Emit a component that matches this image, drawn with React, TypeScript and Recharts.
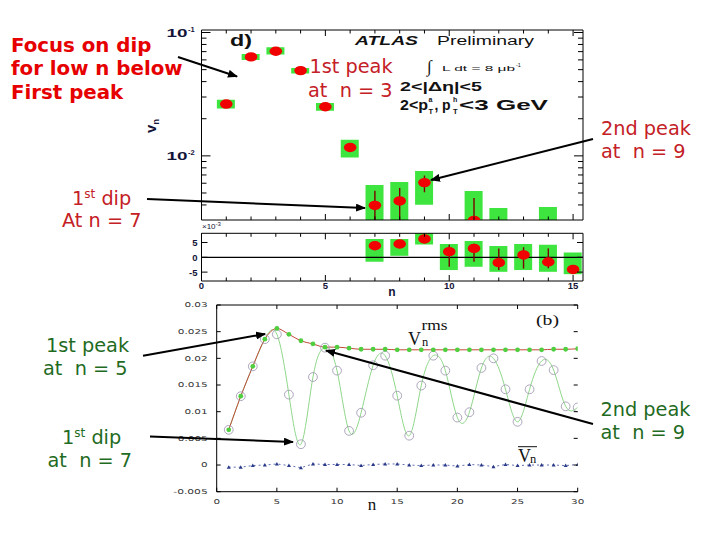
import React from 'react';
import { ComposedChart, Bar, Scatter, ErrorBar, XAxis, YAxis, ReferenceLine, Line } from 'recharts';

const W = 720;
const H = 540;

// ---------- panel d): ATLAS v_n (log scale) ----------
const dPtN = [1, 2, 3, 4, 5, 6, 7, 8, 9, 11];
const dPtV = [0.0263, 0.0634, 0.0705, 0.0491, 0.025, 0.0117, 0.00397, 0.00431, 0.00607, 0.003];
const dErrLo = [0.0263, 0.0634, 0.0705, 0.0491, 0.025, 0.0117, 0.00302, 0.00302, 0.00507, 0.00302];
const dErrHi = [0.0263, 0.0634, 0.0705, 0.0491, 0.025, 0.0117, 0.00522, 0.0055, 0.00692, 0.00456];
const dBoxN = [1, 2, 3, 4, 5, 6, 7, 8, 9, 11, 12, 14];
const dBoxLo = [0.02424, 0.06, 0.0663, 0.0465, 0.0232, 0.00969, 0.002, 0.002, 0.00402, 0.002, 0.002, 0.002];
const dBoxHi = [0.02853, 0.0671, 0.076, 0.0516, 0.0268, 0.01349, 0.00581, 0.00614, 0.00755, 0.00519, 0.00378, 0.00385];
const dYTicks = [0.004, 0.005, 0.006, 0.007, 0.008, 0.009, 0.01, 0.02, 0.03, 0.04, 0.05, 0.06, 0.07, 0.08, 0.09, 0.1];
const nTicks = [0, 1, 2, 3, 4, 5, 6, 7, 8, 9, 10, 11, 12, 13, 14, 15];
const nLabels = [0, 5, 10, 15];

// ---------- residual panel (x10^-3) ----------
const rN = [7, 8, 9, 10, 11, 12, 13, 14, 15];
const rV = [3.9, 4.5, 6.2, 1.9, 3.0, -1.8, 0.8, -1.6, -4.1];
const rErrLo = [3.3, 3.9, 5.6, -3.2, -1.5, -4.3, -3.8, -3.7, -5.4];
const rErrHi = [4.5, 5.1, 6.8, 4.2, 4.6, 3.0, 3.4, 3.0, -2.6];
const rBoxLo = [-1.5, 0.5, 4.3, -4.3, -3.2, -4.9, -4.3, -4.9, -5.7];
const rBoxHi = [6.2, 6.2, 9.0, 4.5, 5.5, 3.8, 4.5, 4.2, 1.6];
const rYTicks = [-5, 0, 5];

// ---------- panel (b): model v_n vs n ----------
const bN = [1, 2, 3, 4, 5, 6, 7, 8, 9, 10, 11, 12, 13, 14, 15, 16, 17, 18, 19, 20, 21, 22, 23, 24, 25, 26, 27, 28, 29, 30];
const bRms = [0.0066, 0.0129, 0.0185, 0.0236, 0.0256, 0.0245, 0.0233, 0.0227, 0.0221, 0.0221, 0.0219, 0.0217, 0.0217, 0.0217, 0.0216, 0.0216, 0.0216, 0.0216, 0.0216, 0.0216, 0.0216, 0.0216, 0.0216, 0.0216, 0.0216, 0.0216, 0.0216, 0.0217, 0.0217, 0.0218];
const bOsc = [0.0066, 0.0129, 0.0185, 0.0236, 0.0245, 0.0132, 0.0039, 0.0165, 0.022, 0.0177, 0.0064, 0.0098, 0.0187, 0.0205, 0.013, 0.0055, 0.0149, 0.0205, 0.0177, 0.0089, 0.0099, 0.0182, 0.02, 0.0142, 0.0081, 0.0142, 0.0195, 0.0178, 0.011, 0.0108];
const bBar = [-0.0004, -0.0004, -0.0001, 0, 0.0002, -0.0001, -0.0005, 0.0002, 0.0001, 0.0001, 0.0001, -0.0001, 0.0001, 0.0002, 0.0002, 0, -0.0001, 0, 0, -0.0002, 0.0001, 0, -0.0003, 0.0001, -0.0001, 0, 0, 0, -0.0001, 0.0001];
const bXTicks = [0, 5, 10, 15, 20, 25, 30];
const bYTicks = [-0.005, 0, 0.005, 0.01, 0.015, 0.02, 0.025, 0.03];

// ---------- tables built from the arrays ----------
const dBoxes = dBoxN.map((n, i) => ({ n, box: [dBoxLo[i], dBoxHi[i]] }));
const dPoints = dPtN.map((n, i) => ({ n, v: dPtV[i], err: [dPtV[i] - dErrLo[i], dErrHi[i] - dPtV[i]] }));
const rBoxes = rN.map((n, i) => ({ n, box: [rBoxLo[i], rBoxHi[i]] }));
const rPoints = rN.map((n, i) => ({ n, v: rV[i], err: [rV[i] - rErrLo[i], rErrHi[i] - rV[i]] }));
const bRows = bN.map((n, i) => ({ n, rms: bRms[i], osc: bOsc[i], vbar: bBar[i] }));

// ---------- styles ----------
const SANS = "'Liberation Sans', Arial, sans-serif";
const DEJA = "'DejaVu Sans', Verdana, sans-serif";
const SERIF = "'Liberation Serif', 'Times New Roman', serif";
const NAVY = '#141438';
const BOX_GREEN = '#3ee53e';
const PT_RED = '#f00000';
const ERR_RED = '#7a0000';
const RED = '#e60000';
const DRED = '#c42026';
const DGREEN = '#1f6b1f';

type LabelFn = (v: number, x: number, y: number) => React.ReactNode;
const tickL = (len: (v: number) => number, label?: LabelFn) => (p: any) => {
  const v = p.payload.value;
  return (
    <g>
      <line x1={p.x} y1={p.y} x2={p.x + len(v)} y2={p.y} stroke="#000" strokeWidth={1} />
      {label ? label(v, p.x, p.y) : null}
    </g>
  );
};
const tickR = (len: (v: number) => number) => (p: any) => (
  <line x1={p.x} y1={p.y} x2={p.x - len(p.payload.value)} y2={p.y} stroke="#000" strokeWidth={1} />
);
const tickB = (len: (v: number) => number, label?: LabelFn) => (p: any) => {
  const v = p.payload.value;
  return (
    <g>
      <line x1={p.x} y1={p.y} x2={p.x} y2={p.y - len(v)} stroke="#000" strokeWidth={1} />
      {label ? label(v, p.x, p.y) : null}
    </g>
  );
};
const tickT = (len: (v: number) => number) => (p: any) => (
  <line x1={p.x} y1={p.y} x2={p.x} y2={p.y + len(p.payload.value)} stroke="#000" strokeWidth={1} />
);

const isDecade = (v: number) => Math.abs(Math.log10(v) - Math.round(Math.log10(v))) < 1e-6;
const logLen = (v: number) => (isDecade(v) ? 9 : 5);
const logLabel: LabelFn = (v, x, y) =>
  isDecade(v) ? (
    <g>
      <text x={x - 14} y={y + 4} textAnchor="end" fontFamily={SANS} fontWeight="bold" fontSize={11.5} textLength={21} lengthAdjust="spacingAndGlyphs" fill={NAVY}>
        10
      </text>
      <text x={x - 13.5} y={y - 1} fontFamily={SANS} fontWeight="bold" fontSize={7.5} fill={NAVY}>
        {String(Math.round(Math.log10(v)))}
      </text>
    </g>
  ) : null;
const nLen = (v: number) => (nLabels.includes(v) ? 6 : 3.5);
const nLabel: LabelFn = (v, x, y) =>
  nLabels.includes(v) ? (
    <text x={x} y={y + 8} textAnchor="middle" fontFamily={SANS} fontWeight="bold" fontSize={9.5} fill={NAVY}>
      {String(v)}
    </text>
  ) : null;
const rLabel: LabelFn = (v, x, y) => (
  <text x={x - 4} y={y + 3.5} textAnchor="end" fontFamily={SANS} fontWeight="bold" fontSize={9.5} fill={NAVY}>
    {String(v)}
  </text>
);
// panel (b) labels: wide, horizontally stretched glyphs
const wideLen = (s: string) =>
  s.split('').reduce((acc, c) => acc + (c === '.' ? 3.5 : c === '-' ? 4.5 : 6.6), 0);
const bYLabel: LabelFn = (v, x, y) => {
  const s = String(v);
  return (
    <text x={x - 9} y={y + 2.4} textAnchor="end" fontFamily={DEJA} fontSize={6.6} textLength={wideLen(s)} lengthAdjust="spacingAndGlyphs" fill="#333">
      {s}
    </text>
  );
};
const bXLabel: LabelFn = (v, x, y) => {
  const s = String(v);
  return (
    <text x={x} y={y + 12.3} textAnchor="middle" fontFamily={DEJA} fontSize={6.6} textLength={wideLen(s)} lengthAdjust="spacingAndGlyphs" fill="#333">
      {s}
    </text>
  );
};

const Ellipse = (p: any) => <ellipse cx={p.cx} cy={p.cy} rx={6.3} ry={4.7} fill={PT_RED} />;
const OpenCircle = (p: any) => (
  <circle key={`oc${p.index}`} cx={p.cx} cy={p.cy} r={4.4} fill="none" stroke="#a49cb4" strokeWidth={0.9} />
);
const GreenDot = (p: any) => <circle key={`gd${p.index}`} cx={p.cx} cy={p.cy} r={2.4} fill="#4fcf3f" />;
const Tri = (p: any) => (
  <path
    key={`tr${p.index}`}
    d={`M${p.cx},${p.cy - 2} L${p.cx + 2},${p.cy + 1.5} L${p.cx - 2},${p.cy + 1.5} Z`}
    fill="#2a3a8a"
  />
);

const abs: React.CSSProperties = { position: 'absolute', left: 0, top: 0 };
const axisCommon = { tickSize: 0, tickMargin: 0, tickLine: false, interval: 0 as const, allowDataOverflow: true };

// axes are 1px thick, so each margin is 1px smaller than the plot edge it defines
function TopPanel() {
  return (
    <div style={abs}>
      <ComposedChart width={W} height={H} data={dBoxes} margin={{ top: 29, right: 136, bottom: 319, left: 200.5 }}>
        <XAxis xAxisId="b" dataKey="n" type="number" domain={[0, 15.4]} ticks={nTicks} height={1} {...axisCommon} axisLine={{ stroke: '#000' }} tick={tickB(nLen)} />
        <XAxis xAxisId="t" dataKey="n" type="number" orientation="top" domain={[0, 15.4]} ticks={nTicks} height={1} {...axisCommon} axisLine={{ stroke: '#000' }} tick={tickT(nLen)} />
        <YAxis yAxisId="l" type="number" scale="log" domain={[0.00302, 0.1048]} ticks={dYTicks} width={1} {...axisCommon} axisLine={{ stroke: '#000' }} tick={tickL(logLen, logLabel)} />
        <YAxis yAxisId="r" type="number" scale="log" orientation="right" domain={[0.00302, 0.1048]} ticks={dYTicks} width={1} {...axisCommon} axisLine={{ stroke: '#000' }} tick={tickR(logLen)} />
        <Bar xAxisId="b" yAxisId="l" dataKey="box" barSize={18} fill={BOX_GREEN} isAnimationActive={false} />
        <Scatter xAxisId="b" yAxisId="l" data={dPoints} dataKey="v" shape={Ellipse} isAnimationActive={false}>
          <ErrorBar dataKey="err" direction="y" width={0} stroke={ERR_RED} strokeWidth={1.4} />
        </Scatter>
      </ComposedChart>
    </div>
  );
}

function ResidualPanel() {
  return (
    <div style={abs}>
      <ComposedChart width={W} height={H} data={rBoxes} margin={{ top: 232.3, right: 136, bottom: 258, left: 200.5 }}>
        <XAxis xAxisId="b" dataKey="n" type="number" domain={[0, 15.4]} ticks={nTicks} height={1} {...axisCommon} axisLine={{ stroke: '#000' }} tick={tickB(nLen, nLabel)} />
        <XAxis xAxisId="t" dataKey="n" type="number" orientation="top" domain={[0, 15.4]} ticks={nTicks} height={1} {...axisCommon} axisLine={{ stroke: '#000' }} tick={tickT(nLen)} />
        <YAxis yAxisId="l" type="number" domain={[-8, 8.1]} ticks={rYTicks} width={1} {...axisCommon} axisLine={{ stroke: '#000' }} tick={tickL(() => 6, rLabel)} />
        <YAxis yAxisId="r" type="number" orientation="right" domain={[-8, 8.1]} ticks={rYTicks} width={1} {...axisCommon} axisLine={{ stroke: '#000' }} tick={tickR(() => 6)} />
        <Bar xAxisId="b" yAxisId="l" dataKey="box" barSize={18} fill={BOX_GREEN} isAnimationActive={false} />
        <ReferenceLine xAxisId="b" yAxisId="l" y={0} stroke="#000" strokeWidth={1.2} />
        <Scatter xAxisId="b" yAxisId="l" data={rPoints} dataKey="v" shape={Ellipse} isAnimationActive={false}>
          <ErrorBar dataKey="err" direction="y" width={0} stroke={ERR_RED} strokeWidth={1.4} />
        </Scatter>
      </ComposedChart>
    </div>
  );
}

function ModelPanel() {
  return (
    <div style={abs}>
      <ComposedChart width={W} height={H} data={bRows} margin={{ top: 304, right: 141.3, bottom: 47.3, left: 215.7 }}>
        <XAxis xAxisId="b" dataKey="n" type="number" domain={[0, 30]} ticks={bXTicks} height={1} {...axisCommon} axisLine={{ stroke: '#000' }} tick={tickB(() => 4, bXLabel)} />
        <XAxis xAxisId="t" dataKey="n" type="number" orientation="top" domain={[0, 30]} ticks={bXTicks} height={1} {...axisCommon} axisLine={{ stroke: '#000' }} tick={tickT(() => 4)} />
        <YAxis yAxisId="l" type="number" domain={[-0.005, 0.03]} ticks={bYTicks} width={1} {...axisCommon} axisLine={{ stroke: '#000' }} tick={tickL(() => 4, bYLabel)} />
        <YAxis yAxisId="r" type="number" orientation="right" domain={[-0.005, 0.03]} ticks={bYTicks} width={1} {...axisCommon} axisLine={false} tick={tickR(() => 4)} />
        <Line xAxisId="b" yAxisId="l" dataKey="osc" type="natural" stroke="#8fd68a" strokeWidth={1} dot={OpenCircle} isAnimationActive={false} />
        <Line xAxisId="b" yAxisId="l" dataKey="rms" type="monotone" stroke="#c24a3a" strokeWidth={1} dot={GreenDot} isAnimationActive={false} />
        <Line xAxisId="b" yAxisId="l" dataKey="vbar" type="linear" stroke="#3a4a9a" strokeWidth={0.8} strokeDasharray="2 3" dot={Tri} isAnimationActive={false} />
      </ComposedChart>
    </div>
  );
}

function Arrow({ x1, y1, x2, y2 }: { x1: number; y1: number; x2: number; y2: number }) {
  return <line x1={x1} y1={y1} x2={x2} y2={y2} stroke="#000" strokeWidth={2} markerEnd="url(#ah)" />;
}

function Overlay() {
  const ann = { fontFamily: DEJA, fontSize: 19.3 };
  return (
    <svg width={W} height={H} style={abs}>
      <defs>
        <marker id="ah" viewBox="0 0 10 8" refX={9} refY={4} markerWidth={10} markerHeight={8} markerUnits="userSpaceOnUse" orient="auto">
          <path d="M0,0 L10,4 L0,8 Z" fill="#000" />
        </marker>
      </defs>

      {/* panel d) texts */}
      <text x={230} y={45.5} fontFamily={SANS} fontWeight="bold" fontSize={16} textLength={22} lengthAdjust="spacingAndGlyphs" fill="#111">d)</text>
      <text x={355} y={45} fontFamily={SANS} fontWeight="bold" fontStyle="italic" fontSize={12.5} textLength={63} lengthAdjust="spacingAndGlyphs" fill="#111">ATLAS</text>
      <text x={437} y={45} fontFamily={SANS} fontSize={12.5} textLength={97} lengthAdjust="spacingAndGlyphs" fill="#111">Preliminary</text>
      <text x={427} y={72} fontFamily={SERIF} fontSize={17} fill="#111">∫</text>
      <text x={442} y={71} fontFamily={SANS} fontSize={7} textLength={73} lengthAdjust="spacingAndGlyphs" fill="#111">L dt = 8 μb</text>
      <text x={516} y={67} fontFamily={SANS} fontSize={5.5} fill="#111">-1</text>
      <text x={400} y={91.2} fontFamily={SANS} fontWeight="bold" fontSize={13.5} textLength={82} lengthAdjust="spacingAndGlyphs" fill="#111">2&lt;|Δη|&lt;5</text>
      <text x={400} y={110} fontFamily={SANS} fontWeight="bold" fontSize={14} textLength={28} lengthAdjust="spacingAndGlyphs" fill="#111">2&lt;p</text>
      <text x={428.5} y={101.5} fontFamily={SANS} fontWeight="bold" fontSize={7} fill="#111">a</text>
      <text x={428.5} y={113.5} fontFamily={SANS} fontWeight="bold" fontSize={7.5} fill="#111">T</text>
      <text x={434.5} y={110} fontFamily={SANS} fontWeight="bold" fontSize={14} fill="#111">,</text>
      <text x={442} y={110} fontFamily={SANS} fontWeight="bold" fontSize={14} fill="#111">p</text>
      <text x={453} y={101.5} fontFamily={SANS} fontWeight="bold" fontSize={7} fill="#111">h</text>
      <text x={453} y={113.5} fontFamily={SANS} fontWeight="bold" fontSize={7.5} fill="#111">T</text>
      <text x={459} y={110} fontFamily={SANS} fontWeight="bold" fontSize={14} textLength={89} lengthAdjust="spacingAndGlyphs" fill="#111">&lt;3 GeV</text>
      <text transform="translate(155.5,126) rotate(-90)" textAnchor="middle" fontFamily={SANS} fontWeight="bold" fontSize={15} fill={NAVY}>
        v<tspan dy={3} fontSize={9}>n</tspan>
      </text>
      <text x={202} y={229} fontFamily={SANS} fontSize={8} fill={NAVY}>
        ×10<tspan dy={-3.5} fontSize={6}>-3</tspan>
      </text>
      <text x={392} y={296} textAnchor="middle" fontFamily={SANS} fontWeight="bold" fontSize={12} fill={NAVY}>n</text>

      {/* panel (b) texts */}
      <text x={408} y={345} fontFamily={SERIF} fontSize={18} fill="#111">V</text>
      <text x={422} y={346} fontFamily={SERIF} fontSize={12.5} fill="#111">n</text>
      <text x={421.5} y={330} fontFamily={SERIF} fontSize={14} textLength={26} lengthAdjust="spacingAndGlyphs" fill="#111">rms</text>
      <text x={536} y={325} fontFamily={SERIF} fontSize={15} textLength={23} lengthAdjust="spacingAndGlyphs" fill="#111">(b)</text>
      <text x={518} y={462} fontFamily={SERIF} fontSize={18} fill="#111">V</text>
      <text x={530} y={463} fontFamily={SERIF} fontSize={12.5} fill="#111">n</text>
      <line x1={518} y1={446.7} x2={537} y2={446.7} stroke="#111" strokeWidth={1} />
      <text x={372} y={510} textAnchor="middle" fontFamily={SERIF} fontSize={17} fill="#111">n</text>

      {/* annotations */}
      <g fontFamily={DEJA} fontWeight="bold" fontSize={19.8} fill={RED}>
        <text x={11} y={52.3}>Focus on dip</text>
        <text x={11} y={75.3}>for low n below</text>
        <text x={11} y={98.5}>First peak</text>
      </g>
      <g {...ann} fill={DRED} style={{ whiteSpace: 'pre' }}>
        <text x={309.5} y={73}>1st peak</text>
        <text x={308} y={96.7}>{'at\u00a0 n = 3'}</text>
        <text x={601} y={135}>2nd peak</text>
        <text x={601} y={158.3}>{'at\u00a0 n = 9'}</text>
        <text x={72} y={205}>
          1<tspan dy={-7} fontSize={12}>st</tspan><tspan dy={7}> dip</tspan>
        </text>
        <text x={62} y={227.3}>At n = 7</text>
      </g>
      <g {...ann} fill={DGREEN} style={{ whiteSpace: 'pre' }}>
        <text x={46} y={352}>1st peak</text>
        <text x={43} y={375}>{'at\u00a0 n = 5'}</text>
        <text x={62} y={444}>
          1<tspan dy={-7} fontSize={12}>st</tspan><tspan dy={7}> dip</tspan>
        </text>
        <text x={47.5} y={467}>{'at\u00a0 n = 7'}</text>
        <text x={600.5} y={415.7}>2nd peak</text>
        <text x={600.5} y={439}>{'at\u00a0 n = 9'}</text>
      </g>

      <Arrow x1={178} y1={57} x2={237} y2={76.5} />
      <Arrow x1={593} y1={139} x2={431} y2={180} />
      <Arrow x1={147} y1={199} x2={365} y2={208} />
      <Arrow x1={143} y1={355.7} x2={265} y2={334} />
      <Arrow x1={150} y1={436.5} x2={293} y2={442} />
      <Arrow x1={593} y1={424} x2={326} y2={350.5} />
    </svg>
  );
}

export default function App() {
  return (
    <div style={{ position: 'relative', width: W, height: H, background: '#fff', overflow: 'hidden' }}>
      <style>{'body{margin:0}'}</style>
      <TopPanel />
      <ResidualPanel />
      <ModelPanel />
      <Overlay />
    </div>
  );
}
